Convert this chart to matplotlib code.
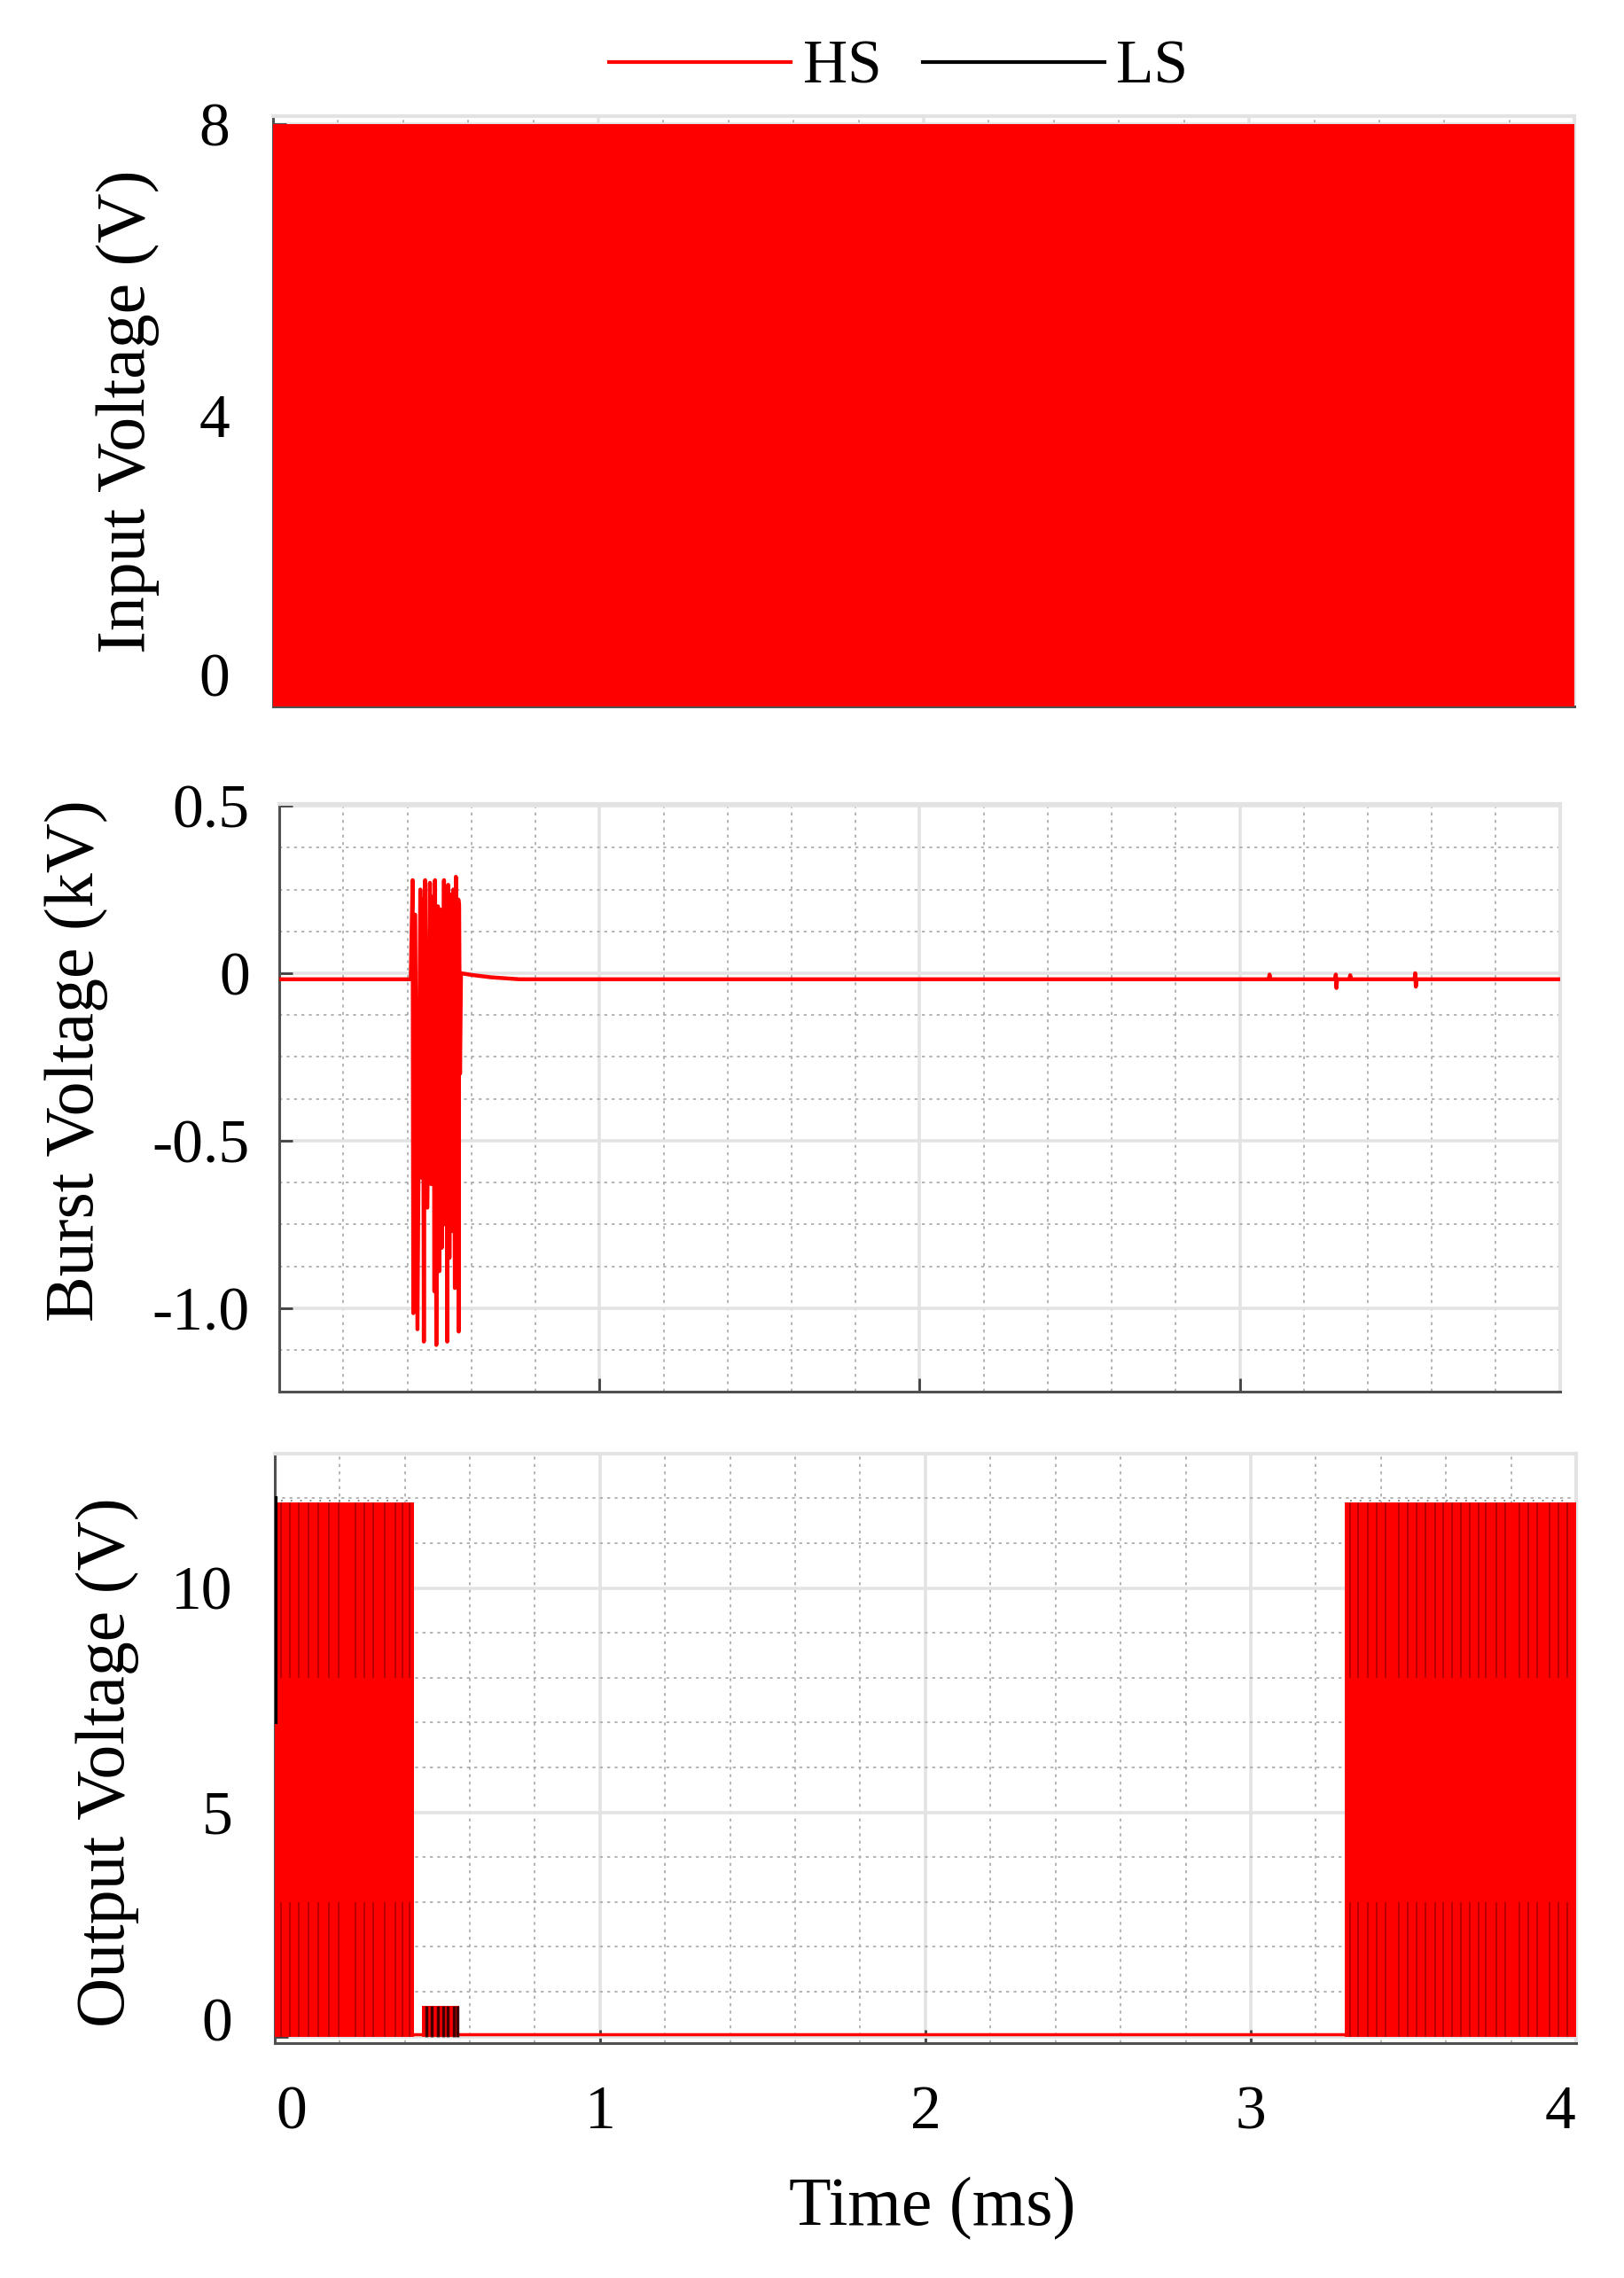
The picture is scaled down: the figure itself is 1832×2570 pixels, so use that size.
import matplotlib
matplotlib.use('Agg')
import matplotlib.pyplot as plt
import matplotlib.transforms as mtransforms
from matplotlib.lines import Line2D
from matplotlib.ticker import MultipleLocator

plt.rcParams['font.family'] = ['Liberation Serif', 'DejaVu Serif']

# --- data (time in ms) ---

# input: HS switching between 0 and 8 V over the whole window (seen as a block)
in_t = [0.0, 4.0]
in_low = [0.0, 0.0]
in_high = [8.0, 8.0]

# burst voltage trace (kV)
burst_t = [0.000, 0.410,
           0.416, 0.418, 0.424, 0.431, 0.440, 0.443, 0.448, 0.451, 0.455,
           0.462, 0.470, 0.474, 0.481, 0.484, 0.486, 0.490, 0.495, 0.499,
           0.503, 0.507, 0.514, 0.518, 0.522, 0.524, 0.527, 0.531, 0.536,
           0.538, 0.543, 0.548, 0.551, 0.556, 0.559, 0.560, 0.561, 0.564,
           0.567, 0.600, 0.660, 0.750,
           3.090, 3.093, 3.096, 3.298, 3.300, 3.302, 3.304, 3.342, 3.345,
           3.348, 3.546, 3.548, 3.550, 3.552, 4.000]
burst_v = [-0.018, -0.018,
           0.278, -1.015, 0.175, -1.063, 0.250, -0.610, 0.220, -1.100, 0.278,
           -0.700, 0.270, -0.630, 0.230, -0.950, 0.278, -1.110, 0.200, -0.890,
           0.190, -0.820, 0.278, -0.750, 0.230, -1.100, 0.264, -0.850, 0.235,
           -0.770, 0.250, -0.940, 0.288, -0.800, 0.220, -1.070, 0.207, -0.300,
           0.000, -0.005, -0.012, -0.018,
           -0.018, -0.004, -0.018, -0.018, -0.004, -0.044, -0.018, -0.018, -0.006,
           -0.018, -0.018, 0.000, -0.040, -0.018, -0.018]

# output: switching blocks (start, end, high level) and the idle level
out_start = [0.0, 0.452, 3.290]
out_end = [0.427, 0.568, 4.0]
out_high = [11.9, 0.69, 11.9]
out_idle_t = [0.427, 0.452, 0.568, 3.290]
out_idle_v = [0.05, 0.05, 0.05, 0.05]

# LS edges visible through the HS trace
ls_start_t = 0.004
ls_start_v = [6.96, 12.05]
ls_edges_1 = [0.021, 0.048, 0.075, 0.103, 0.134, 0.166, 0.198, 0.248,
              0.275, 0.302, 0.339, 0.371, 0.394, 0.416]
ls_edges_2 = [0.466, 0.484, 0.502, 0.518, 0.533, 0.550, 0.563]
ls_edges_3 = [3.304, 3.331, 3.359, 3.386, 3.413, 3.454, 3.481, 3.509,
              3.536, 3.568, 3.590, 3.618, 3.645, 3.672, 3.699, 3.722,
              3.754, 3.781, 3.826, 3.853, 3.881, 3.917, 3.945, 3.972]

x_ticks = [0, 1, 2, 3, 4]
in_ticks = [0, 4, 8]
burst_ticks = [0.5, 0, -0.5, -1.0]
burst_ticklabels = ['0.5', '0', '-0.5', '-1.0']
out_ticks = [0, 5, 10]

RED = '#ff0000'
DARK = '#505050'
LIGHT = '#e3e3e3'

fig = plt.figure(figsize=(18.33, 25.70), dpi=100)
ax1 = fig.add_axes([0.168, 0.690, 0.801, 0.259])
ax2 = fig.add_axes([0.172, 0.389, 0.788, 0.258])
ax3 = fig.add_axes([0.169, 0.103, 0.801, 0.259])


def style_axes(ax, ymin_step):
    ax.set_xlim(0, 4)
    ax.set_xticks(x_ticks)
    ax.xaxis.set_minor_locator(MultipleLocator(0.2))
    ax.yaxis.set_minor_locator(MultipleLocator(ymin_step))
    ax.set_axisbelow(True)
    ax.grid(which='major', color=LIGHT, lw=2.6, ls='-')
    ax.grid(which='minor', color='#a8a8a8', lw=1.2, ls=(0, (2, 3)))
    ax.tick_params(which='major', direction='in', length=11, width=2,
                   color='#404040', top=False, right=False, labelsize=50)
    ax.tick_params(which='minor', length=0)
    for side in ['left', 'bottom']:
        ax.spines[side].set_color(DARK)
        ax.spines[side].set_linewidth(2.2)
    for side in ['top', 'right']:
        ax.spines[side].set_color(LIGHT)
        ax.spines[side].set_linewidth(3)


# --- input voltage ---
style_axes(ax1, 1)
ax1.fill_between(in_t, in_low, in_high, color=RED, lw=0, zorder=3)
ax1.set_ylim(0, 8.11)
ax1.set_yticks(in_ticks)
ax1.tick_params(axis='y', pad=35)
ax1.tick_params(axis='x', labelbottom=False)
ax1.set_ylabel('Input Voltage (V)', fontsize=56)
ax1.yaxis.set_label_coords(-0.087, 0.5)

# --- burst voltage ---
style_axes(ax2, 0.125)
ax2.plot(burst_t, burst_v, color=RED, lw=3.2, zorder=3)
ax2.set_ylim(-1.25, 0.505)
ax2.set_yticks(burst_ticks)
ax2.set_yticklabels(burst_ticklabels)
ax2.tick_params(axis='y', pad=24)
ax2.tick_params(axis='x', labelbottom=False)
ax2.set_ylabel('Burst Voltage (kV)', fontsize=56)
ax2.yaxis.set_label_coords(-0.134, 0.563)

# --- output voltage ---
style_axes(ax3, 1)
for t0, t1, hi in zip(out_start, out_end, out_high):
    ax3.fill_between([t0, t1], [0, 0], [hi, hi], color=RED, lw=0, zorder=3)
ax3.plot(out_idle_t, out_idle_v, color=RED, lw=2.5, zorder=3)
ax3.vlines(ls_start_t, ls_start_v[0], ls_start_v[1], colors='k', lw=3, zorder=5)
for edges, hi in [(ls_edges_1, out_high[0]), (ls_edges_3, out_high[2])]:
    ax3.vlines(edges, 8.0, hi, colors='#300000', lw=1.4, alpha=0.35, zorder=4)
    ax3.vlines(edges, 0, 3.0, colors='#300000', lw=1.4, alpha=0.35, zorder=4)
    ax3.hlines(hi + 0.05, edges[0], edges[-1], colors='k', lw=1.3,
               linestyles=(0, (1, 5)), alpha=0.5, zorder=4)
ax3.vlines(ls_edges_2, 0, out_high[1], colors='k', lw=2.5, alpha=0.75, zorder=4)
ax3.set_ylim(-0.15, 13)
ax3.set_yticks(out_ticks)
ax3.tick_params(axis='y', pad=34)
ax3.tick_params(axis='x', pad=34)
ax3.set_ylabel('Output Voltage (V)', fontsize=56)
ax3.yaxis.set_label_coords(-0.104, 0.477)
ax3.set_xlabel('Time (ms)', fontsize=56)
ax3.xaxis.set_label_coords(0.505, -0.226)

# nudge the edge labels like the original
def shift(label, dx, dy):
    label.set_transform(label.get_transform() +
                        mtransforms.ScaledTranslation(dx / 100, dy / 100, fig.dpi_scale_trans))

shift(ax1.get_yticklabels()[0], 0, 35)
shift(ax3.get_yticklabels()[0], 0, 19)
xl = ax3.get_xticklabels()
shift(xl[0], 19, 0)
shift(xl[-1], -18, 0)

# legend on top
handles = [Line2D([], [], color=RED, lw=3), Line2D([], [], color='k', lw=3)]
fig.legend(handles, ['HS', 'LS'], loc='center', bbox_to_anchor=(0.553, 0.970),
           ncol=2, frameon=False, fontsize=50, handlelength=2.95,
           handletextpad=0.2, columnspacing=0.67)

fig.savefig('out.png', dpi=100)
